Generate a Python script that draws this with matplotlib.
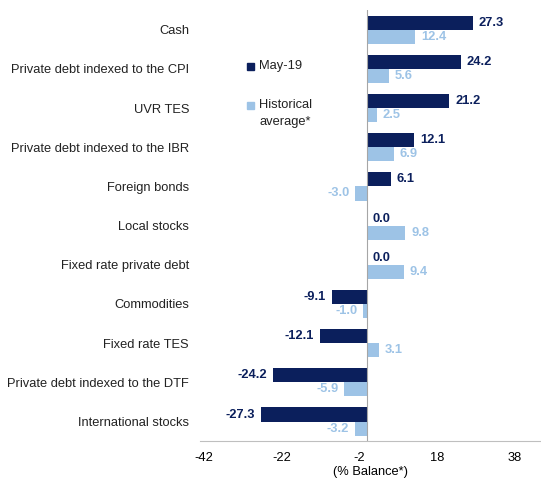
import matplotlib.pyplot as plt
from matplotlib.patches import Rectangle
import numpy as np

plt.rcParams['font.family'] = ['Liberation Sans', 'DejaVu Sans']

categories = ['Cash', 'Private debt indexed to the CPI', 'UVR TES',
              'Private debt indexed to the IBR', 'Foreign bonds', 'Local stocks',
              'Fixed rate private debt', 'Commodities', 'Fixed rate TES',
              'Private debt indexed to the DTF', 'International stocks']
may19 = [27.3, 24.2, 21.2, 12.1, 6.1, 0.0, 0.0, -9.1, -12.1, -24.2, -27.3]
hist_avg = [12.4, 5.6, 2.5, 6.9, -3.0, 9.8, 9.4, -1.0, 3.1, -5.9, -3.2]
xticks = [-42, -22, -2, 18, 38]
series_names = ['May-19', 'Historical\naverage*']

dark = '#0b1f5c'
light = '#9dc3e6'
fs = 9.3

W, H = 541, 479
fig = plt.figure(figsize=(5.41, 4.79), dpi=100)
ax = fig.add_axes([0.370, 0.079, 0.628, 0.900])

y = np.arange(len(categories))[::-1]
h = 0.36
ax.barh(y + h / 2, may19, height=h, color=dark)
ax.barh(y - h / 2, hist_avg, height=h, color=light)

for yi, v in zip(y, may19):
    ha = 'left' if v >= 0 else 'right'
    off = 1.5 if v >= 0 else -1.5
    ax.text(v + off, yi + h / 2, f'{v:.1f}', ha=ha, va='center',
            color=dark, fontsize=fs, fontweight='bold')
for yi, v in zip(y, hist_avg):
    ha = 'left' if v >= 0 else 'right'
    off = 1.5 if v >= 0 else -1.5
    ax.text(v + off, yi - h / 2, f'{v:.1f}', ha=ha, va='center',
            color=light, fontsize=fs, fontweight='bold')

ax.axvline(0, color='#a6a6a6', lw=0.8)
ax.set_xlim(-43, 44.5)
ax.set_ylim(-0.5, 10.5)
ax.set_xticks(xticks)
ax.set_xticklabels([str(t) for t in xticks], fontsize=fs)
ax.set_yticks(y)
ax.set_yticklabels(categories, fontsize=fs, color='#222222')
ax.tick_params(axis='both', length=0)
ax.tick_params(axis='y', pad=8)
ax.tick_params(axis='x', pad=8)
ax.set_xlabel('(% Balance*)', fontsize=fs, labelpad=1)

for s in ['top', 'right', 'left']:
    ax.spines[s].set_visible(False)
ax.spines['bottom'].set_color('#bfbfbf')

# legend drawn by hand (marker sits on the first text line)
for name, col, ypx in zip(series_names, [dark, light], [66, 105]):
    fig.patches.append(Rectangle((247 / W, 1 - (ypx + 3.5) / H), 7 / W, 7 / H,
                                 transform=fig.transFigure, color=col))
    fig.text(259 / W, 1 - (ypx - 5.5) / H, name, fontsize=fs, va='top',
             ha='left', linespacing=1.55, color='#222222')

fig.savefig('out.png', dpi=100)
